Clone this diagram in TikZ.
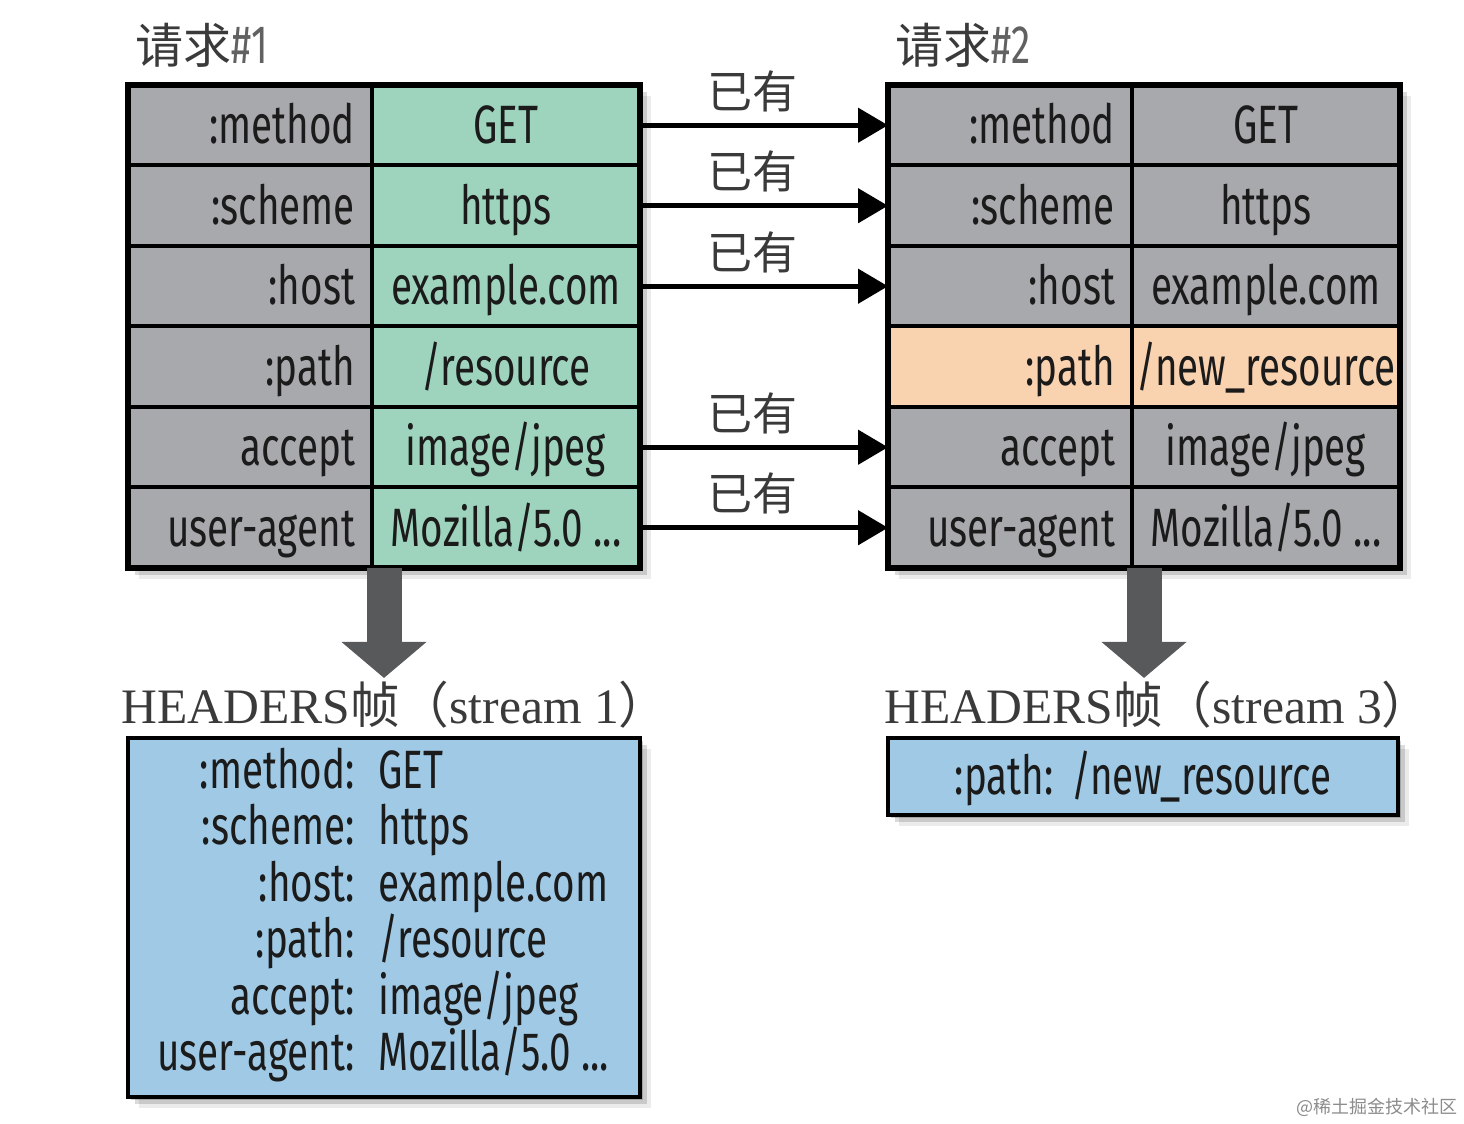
\documentclass[tikz,border=0pt]{standalone}
\usepackage{fontspec}
\setmainfont{Liberation Serif}
\newfontfamily\condfont[FakeStretch=0.715]{Fira Sans}
\newfontfamily\cjk{Noto Sans CJK SC}
\usetikzlibrary{arrows.meta,shadows,backgrounds}
\definecolor{keycol}{HTML}{A7A9AC}
\definecolor{valcol}{HTML}{9ED4BD}
\definecolor{newcol}{HTML}{F9D2AF}
\definecolor{hdrcol}{HTML}{9FC9E4}
\definecolor{bigarrowcol}{HTML}{58595B}
\definecolor{labelcol}{HTML}{3A3A3A}
\definecolor{textcol}{HTML}{1B1B1B}
\begin{document}
\begin{tikzpicture}[>={Triangle[length=15bp,width=17bp]},line join=miter,
  cell/.style={draw=black,line width=2bp,inner sep=0pt,outer sep=0pt,
    minimum height=40.25bp,text height=23bp,text depth=4.5bp,text=textcol,
    font=\condfont\fontsize{27bp}{32bp}\selectfont},
  keycell/.style={cell,fill=keycol,minimum width=122bp,text width=105bp,align=right},
  valcell/.style={cell,fill=valcol,minimum width=134bp},
  oldcell/.style={cell,fill=keycol,minimum width=134bp},
  newkeycell/.style={keycell,fill=newcol},
  newvalcell/.style={oldcell,fill=newcol},
  frame/.style={draw=black,line width=2.6bp},
  tableshadow/.style={
    drop shadow={shadow xshift=1.5bp,shadow yshift=-1.5bp,opacity=.18,fill=black},
    drop shadow={shadow xshift=3.5bp,shadow yshift=-3.5bp,opacity=.14,fill=black},
    drop shadow={shadow xshift=5.5bp,shadow yshift=-5.5bp,opacity=.08,fill=black}},
  known/.style={->,line width=2.4bp},
  knownlabel/.style={midway,xshift=-6bp,yshift=17bp,text=labelcol,font=\cjk\fontsize{22.5bp}{26bp}\selectfont},
  bigarrow/.style={-{Triangle[length=18bp,width=41.5bp]},line width=17.5bp,draw=bigarrowcol},
  title/.style={anchor=west,text=labelcol,inner sep=0pt},
  hdrlabel/.style={text=labelcol,inner sep=0pt,font=\fontsize{24.8bp}{29bp}\selectfont},
  hdrbox/.style={draw=black,line width=2bp,fill=hdrcol,inner sep=0pt,outer sep=0pt,
    text height=23bp,text depth=4.5bp,text=textcol,font=\condfont\fontsize{27bp}{32bp}\selectfont},
  hdrkey/.style={anchor=base east,inner sep=0pt,text=textcol,font=\condfont\fontsize{27bp}{32bp}\selectfont},
  hdrval/.style={anchor=base west,inner sep=0pt,text=textcol,font=\condfont\fontsize{27bp}{32bp}\selectfont},
]
\useasboundingbox (0bp,0bp) rectangle (732bp,562bp);
%% titles
\node[title] (title1) at (67.5bp,539.5bp) {{\cjk\fontsize{24bp}{28bp}\selectfont 请求}{\condfont\fontsize{27bp}{32bp}\selectfont\color{labelcol!80}\#1}};
\node[title] (title2) at (447.5bp,539.5bp) {{\cjk\fontsize{24bp}{28bp}\selectfont 请求}{\condfont\fontsize{27bp}{32bp}\selectfont\color{labelcol!80}\#2}};
%% request #1
\node[keycell] (method_key1) at (125bp,499.375bp) {:method};
\node[valcell] (method_val1) at (253bp,499.375bp) {GET};
\node[keycell] (scheme_key1) at (125bp,459.125bp) {:scheme};
\node[valcell] (scheme_val1) at (253bp,459.125bp) {https};
\node[keycell] (host_key1) at (125bp,418.875bp) {:host};
\node[valcell] (host_val1) at (253bp,418.875bp) {example.com};
\node[keycell] (path_key1) at (125bp,378.625bp) {:path};
\node[valcell] (path_val1) at (253bp,378.625bp) {/resource};
\node[keycell] (accept_key1) at (125bp,338.375bp) {accept};
\node[valcell] (accept_val1) at (253bp,338.375bp) {image/jpeg};
\node[keycell] (agent_key1) at (125bp,298.125bp) {user-agent};
\node[valcell] (agent_val1) at (253bp,298.125bp) {Mozilla/5.0 ...};
\draw[frame] (method_key1.north west) rectangle (agent_val1.south east);
%% request #2
\node[keycell] (method_key2) at (505bp,499.375bp) {:method};
\node[oldcell] (method_val2) at (633bp,499.375bp) {GET};
\node[keycell] (scheme_key2) at (505bp,459.125bp) {:scheme};
\node[oldcell] (scheme_val2) at (633bp,459.125bp) {https};
\node[keycell] (host_key2) at (505bp,418.875bp) {:host};
\node[oldcell] (host_val2) at (633bp,418.875bp) {example.com};
\node[newkeycell] (path_key2) at (505bp,378.625bp) {:path};
\node[newvalcell] (path_val2) at (633bp,378.625bp) {/new\_resource};
\node[keycell] (accept_key2) at (505bp,338.375bp) {accept};
\node[oldcell] (accept_val2) at (633bp,338.375bp) {image/jpeg};
\node[keycell] (agent_key2) at (505bp,298.125bp) {user-agent};
\node[oldcell] (agent_val2) at (633bp,298.125bp) {Mozilla/5.0 ...};
\draw[frame] (method_key2.north west) rectangle (agent_val2.south east);
%% headers already in the table
\draw[known] (method_val1.east) -- (method_key2.west) node[knownlabel] {已有};
\draw[known] (scheme_val1.east) -- (scheme_key2.west) node[knownlabel] {已有};
\draw[known] (host_val1.east) -- (host_key2.west) node[knownlabel] {已有};
\draw[known] (accept_val1.east) -- (accept_key2.west) node[knownlabel] {已有};
\draw[known] (agent_val1.east) -- (agent_key2.west) node[knownlabel] {已有};
%% HEADERS frames
\coordinate (tip1) at (192bp,223bp);
\coordinate (tip3) at (572bp,223bp);
\draw[bigarrow] (tip1 |- agent_key1.south) -- (tip1);
\draw[bigarrow] (tip3 |- agent_key2.south) -- (tip3);
\node[hdrlabel] (hdr_label1) at (197.5bp,209.5bp) {HEADERS{\cjk 帧（}stream 1{\cjk ）}};
\node[hdrlabel] (hdr_label3) at (579bp,209.5bp) {HEADERS{\cjk 帧（}stream 3{\cjk ）}};
\node[hdrbox,minimum width=256bp,minimum height=179.5bp] (hdr_box1) at (192bp,103.25bp) {};
\node[hdrkey] (hdr_key1) at (177.5bp,167.75bp) {:method:};
\node[hdrval] (hdr_val1) at (189bp,167.75bp) {GET};
\node[hdrkey] (hdr_key2) at (177.5bp,139.55bp) {:scheme:};
\node[hdrval] (hdr_val2) at (189bp,139.55bp) {https};
\node[hdrkey] (hdr_key3) at (177.5bp,111.35bp) {:host:};
\node[hdrval] (hdr_val3) at (189bp,111.35bp) {example.com};
\node[hdrkey] (hdr_key4) at (177.5bp,83.15bp) {:path:};
\node[hdrval] (hdr_val4) at (189bp,83.15bp) {/resource};
\node[hdrkey] (hdr_key5) at (177.5bp,54.95bp) {accept:};
\node[hdrval] (hdr_val5) at (189bp,54.95bp) {image/jpeg};
\node[hdrkey] (hdr_key6) at (177.5bp,26.75bp) {user-agent:};
\node[hdrval] (hdr_val6) at (189bp,26.75bp) {Mozilla/5.0 ...};
\node[hdrbox,minimum width=255bp,minimum height=38.5bp] (hdr_box3) at (571.5bp,173.75bp) {:path:\hspace{9bp}/new\_resource};
%% watermark
\node[text=black!45,inner sep=0pt,font=\cjk\fontsize{9bp}{11bp}\selectfont] (mark) at (688.5bp,8.5bp) {@稀土掘金技术社区};
%% shadows
\begin{scope}[on background layer]
  \fill[white] (0bp,0bp) rectangle (732bp,562bp);
  \path[tableshadow] (method_key1.north west) rectangle (agent_val1.south east);
  \path[tableshadow] (method_key2.north west) rectangle (agent_val2.south east);
  \path[tableshadow] (hdr_box1.north west) rectangle (hdr_box1.south east);
  \path[tableshadow] (hdr_box3.north west) rectangle (hdr_box3.south east);
\end{scope}
%
\end{tikzpicture}
\end{document}
